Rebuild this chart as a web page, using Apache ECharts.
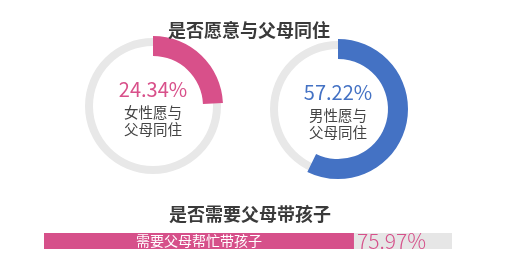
<!DOCTYPE html>
<html><head><meta charset="utf-8">
<script src="https://cdn.jsdelivr.net/npm/echarts@6/dist/echarts.min.js"></script>
<style>html,body{margin:0;padding:0;background:#fff}#c{width:513px;height:253px}</style>
</head><body><div id="c"></div>
<script>
const titles = ['是否愿意与父母同住', '是否需要父母带孩子'];
const ringNames = ['女性愿与\n父母同住', '男性愿与\n父母同住'];
const ringValues = [24.34, 57.22];
const ringColors = ['#d8508a', '#4472c4'];
const barCategories = ['需要父母帮忙带孩子'];
const barValues = [75.97];
const barTotal = [100];

const FONT = '"Noto Sans CJK SC", "Noto Sans", sans-serif';
const centers = [[153, 106], [338, 109]];

const series = [];
ringValues.forEach((v, i) => {
  series.push({
    type: 'pie', center: centers[i], radius: [60, 68], silent: true,
    label: { show: false }, labelLine: { show: false },
    itemStyle: { color: '#e8e8e8' }, data: [{ value: 100, name: 'bg' + i }], z: 1
  });
  series.push({
    type: 'pie', center: centers[i], radius: [50, 70], startAngle: 90, clockwise: true,
    silent: true, labelLine: { show: false }, z: 2,
    data: [
      { value: v, name: ringNames[i], itemStyle: { color: ringColors[i] },
        label: { show: true, position: 'center',
          formatter: p => '{a|' + p.value.toFixed(2) + '%}\n' + p.name.split('\n').map(s => '{b|' + s + '}').join('\n'),
          rich: {
            a: { fontFamily: FONT, fontSize: 20, lineHeight: 29, color: ringColors[i], fontWeight: 'normal' },
            b: { fontFamily: FONT, fontSize: 14.5, lineHeight: 17, color: '#444' }
          } } },
      { value: 100 - v, name: 'rest' + i, itemStyle: { color: 'rgba(0,0,0,0)' }, label: { show: false } }
    ]
  });
});

series.push({
  type: 'bar', xAxisIndex: 0, yAxisIndex: 0, data: barTotal, barWidth: 16, barGap: '-100%',
  itemStyle: { color: '#e6e6e6' }, silent: true, z: 1
});
series.push({
  type: 'bar', xAxisIndex: 0, yAxisIndex: 0, data: barValues, barWidth: 16, barGap: '-100%',
  itemStyle: { color: '#d6508a' }, silent: true, z: 2,
  label: { show: true, position: 'inside', formatter: p => p.name, color: '#fff',
    fontFamily: FONT, fontSize: 14 }
});
series.push({
  type: 'bar', xAxisIndex: 0, yAxisIndex: 0, data: barValues, barWidth: 16, barGap: '-100%',
  itemStyle: { color: 'rgba(0,0,0,0)' }, silent: true, z: 3,
  label: { show: true, position: 'right', distance: 3, formatter: p => p.value.toFixed(2) + '%',
    color: '#d6508a', fontFamily: FONT, fontSize: 21, fontWeight: 300 }
});

const chart = echarts.init(document.getElementById('c'), null, { renderer: 'canvas' });
chart.setOption({
  backgroundColor: '#fff',
  animation: false,
  title: [
    { text: titles[0], left: 244, top: 16, textAlign: 'center',
      textStyle: { fontFamily: FONT, fontSize: 18, fontWeight: 'bold', color: '#3a3a3a' } },
    { text: titles[1], left: 245, top: 200, textAlign: 'center',
      textStyle: { fontFamily: FONT, fontSize: 18, fontWeight: 'bold', color: '#3a3a3a' } }
  ],
  grid: { left: 44, top: 233, width: 408, height: 16 },
  xAxis: { type: 'value', min: 0, max: 100, show: false },
  yAxis: { type: 'category', data: barCategories, show: false },
  series: series
});
</script></body></html>
